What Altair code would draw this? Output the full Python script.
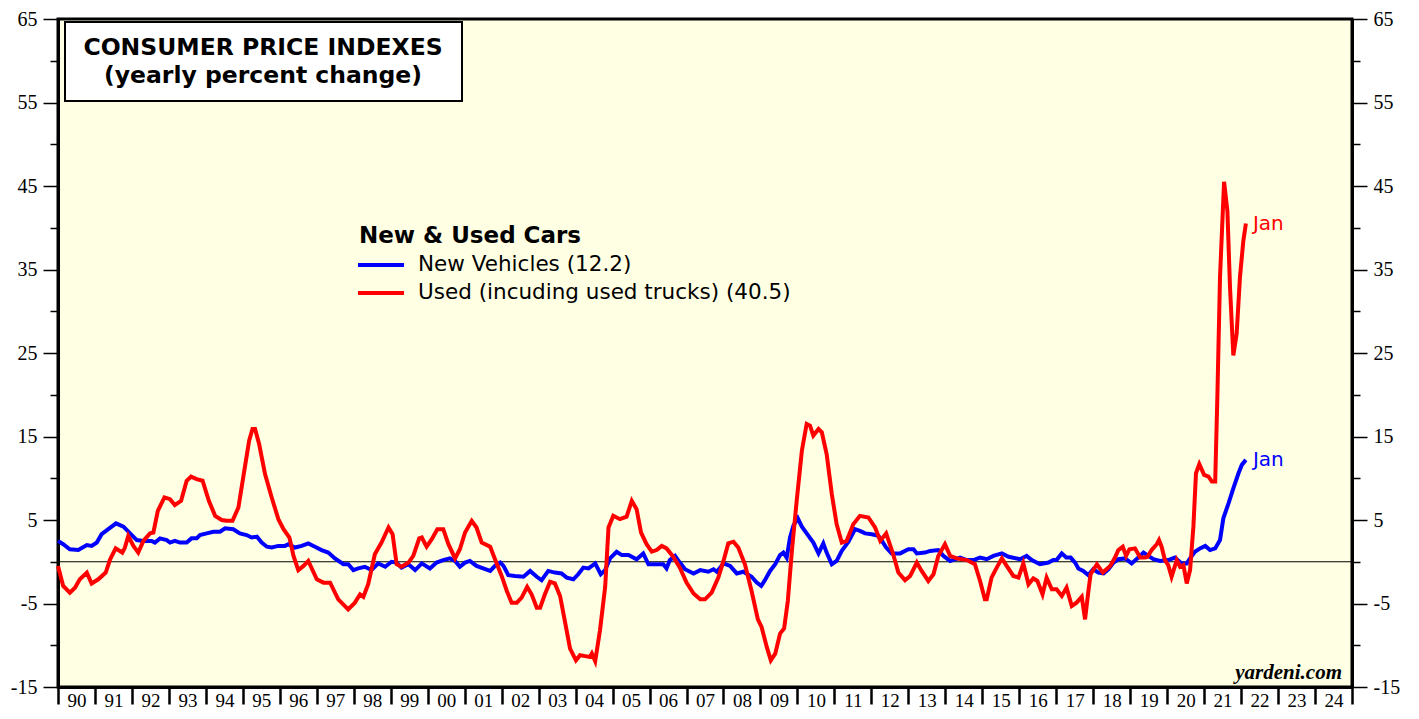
import altair as alt
import pandas as pd

# ---------------- data ----------------
new_t = [1990.00, 1990.14, 1990.32, 1990.55, 1990.78, 1990.91, 1991.05, 1991.18, 1991.36, 1991.57,
         1991.77, 1991.95, 1992.13, 1992.31, 1992.53, 1992.62, 1992.76, 1992.94, 1993.03, 1993.16,
         1993.30, 1993.48, 1993.61, 1993.75, 1993.84, 1994.02, 1994.20, 1994.38, 1994.52, 1994.74,
         1994.92, 1995.10, 1995.24, 1995.38, 1995.51, 1995.65, 1995.78, 1995.96, 1996.14, 1996.23,
         1996.41, 1996.59, 1996.77, 1996.95, 1997.13, 1997.31, 1997.49, 1997.72, 1997.85, 1997.99,
         1998.12, 1998.30, 1998.48, 1998.66, 1998.85, 1999.02, 1999.16, 1999.29, 1999.48, 1999.66,
         1999.84, 2000.06, 2000.24, 2000.42, 2000.60, 2000.74, 2000.87, 2001.01, 2001.14, 2001.32,
         2001.50, 2001.69, 2001.82, 2001.96, 2002.05, 2002.18, 2002.36, 2002.59, 2002.77, 2002.95,
         2003.08, 2003.26, 2003.44, 2003.62, 2003.76, 2003.94, 2004.07, 2004.21, 2004.35, 2004.53,
         2004.68, 2004.80, 2004.93, 2005.11, 2005.25, 2005.43, 2005.65, 2005.83, 2005.97, 2006.15,
         2006.37, 2006.46, 2006.55, 2006.69, 2006.82, 2006.96, 2007.19, 2007.37, 2007.59, 2007.73,
         2007.82, 2008.00, 2008.18, 2008.36, 2008.54, 2008.76, 2008.90, 2009.02, 2009.12, 2009.26,
         2009.40, 2009.53, 2009.62, 2009.71, 2009.80, 2009.89, 2010.01, 2010.12, 2010.25, 2010.43,
         2010.57, 2010.70, 2010.79, 2010.93, 2011.06, 2011.20, 2011.38, 2011.56, 2011.69, 2011.83,
         2012.01, 2012.19, 2012.30, 2012.40, 2012.55, 2012.78, 2013.00, 2013.14, 2013.23, 2013.45,
         2013.59, 2013.81, 2013.95, 2014.13, 2014.40, 2014.58, 2014.76, 2014.94, 2015.12, 2015.30,
         2015.53, 2015.71, 2016.02, 2016.20, 2016.34, 2016.56, 2016.79, 2016.92, 2017.01, 2017.15,
         2017.27, 2017.39, 2017.51, 2017.60, 2017.73, 2017.87, 2018.00, 2018.14, 2018.28, 2018.41,
         2018.55, 2018.68, 2018.86, 2019.04, 2019.22, 2019.36, 2019.49, 2019.63, 2019.81, 2020.03,
         2020.21, 2020.39, 2020.53, 2020.62, 2020.75, 2020.89, 2021.03, 2021.16, 2021.30, 2021.43,
         2021.52, 2021.66, 2021.79, 2021.93, 2022.02, 2022.13]
new_v = [2.5, 2.1, 1.5, 1.4, 2.0, 1.9, 2.3, 3.3, 3.9, 4.6,
         4.2, 3.4, 2.6, 2.5, 2.5, 2.3, 2.8, 2.6, 2.3, 2.5,
         2.3, 2.3, 2.8, 2.8, 3.2, 3.4, 3.6, 3.6, 4.0, 3.9,
         3.4, 3.2, 2.9, 3.0, 2.3, 1.8, 1.7, 1.9, 1.9, 2.1,
         1.7, 1.9, 2.2, 1.8, 1.4, 1.1, 0.4, -0.3, -0.3, -1.0,
         -0.8, -0.6, -1.0, -0.2, -0.6, 0.0, -0.1, -0.7, -0.3, -1.0,
         -0.2, -0.8, -0.1, 0.2, 0.4, 0.1, -0.6, -0.1, 0.1, -0.5,
         -0.8, -1.1, -0.5, -0.1, -0.5, -1.6, -1.7, -1.8, -1.1, -1.8,
         -2.2, -1.1, -1.3, -1.4, -1.9, -2.1, -1.5, -0.7, -0.8, -0.2,
         -1.5, -1.0, 0.4, 1.2, 0.8, 0.8, 0.3, 1.0, -0.3, -0.3,
         -0.3, -0.8, 0.2, 0.7, -0.1, -0.9, -1.4, -1.0, -1.2, -0.9,
         -1.2, -0.2, -0.5, -1.4, -1.2, -1.8, -2.5, -2.9, -2.2, -1.1,
         -0.3, 0.8, 1.1, 0.5, 2.9, 4.3, 5.2, 4.2, 3.4, 2.3,
         1.0, 2.2, 1.1, -0.3, 0.1, 1.3, 2.4, 3.9, 3.7, 3.4,
         3.3, 3.1, 2.4, 1.7, 1.0, 1.0, 1.5, 1.5, 1.0, 1.1,
         1.3, 1.4, 0.7, 0.1, 0.5, 0.2, 0.2, 0.5, 0.3, 0.7,
         1.0, 0.6, 0.3, 0.7, 0.2, -0.3, -0.1, 0.2, 0.2, 1.0,
         0.5, 0.5, -0.1, -0.8, -1.1, -1.6, -0.9, -1.3, -1.4, -0.9,
         -0.1, 0.3, 0.4, -0.2, 0.5, 1.1, 0.7, 0.3, 0.1, 0.2,
         0.5, -0.2, -0.2, 0.4, 1.2, 1.6, 1.9, 1.4, 1.6, 2.6,
         5.2, 7.0, 8.8, 10.6, 11.6, 12.2]

used_t = [1990.00, 1990.14, 1990.32, 1990.46, 1990.59, 1990.78, 1990.91, 1991.09, 1991.29, 1991.41,
          1991.56, 1991.74, 1991.81, 1991.90, 1992.04, 1992.17, 1992.31, 1992.49, 1992.58, 1992.70,
          1992.88, 1993.03, 1993.16, 1993.33, 1993.48, 1993.60, 1993.75, 1993.91, 1994.08, 1994.25,
          1994.43, 1994.56, 1994.72, 1994.88, 1995.01, 1995.17, 1995.26, 1995.33, 1995.44, 1995.60,
          1995.78, 1995.96, 1996.10, 1996.26, 1996.37, 1996.50, 1996.64, 1996.77, 1997.00, 1997.18,
          1997.36, 1997.58, 1997.85, 1998.03, 1998.17, 1998.26, 1998.39, 1998.57, 1998.75, 1998.94,
          1999.05, 1999.16, 1999.29, 1999.48, 1999.61, 1999.77, 1999.84, 1999.97, 2000.11, 2000.26,
          2000.42, 2000.56, 2000.74, 2000.87, 2001.01, 2001.19, 2001.32, 2001.46, 2001.69, 2001.82,
          2002.00, 2002.14, 2002.27, 2002.41, 2002.54, 2002.69, 2002.81, 2002.95, 2003.04, 2003.17,
          2003.31, 2003.44, 2003.58, 2003.71, 2003.85, 2004.01, 2004.12, 2004.26, 2004.39, 2004.44,
          2004.53, 2004.66, 2004.80, 2004.89, 2005.02, 2005.20, 2005.38, 2005.52, 2005.65, 2005.77,
          2005.92, 2006.06, 2006.19, 2006.33, 2006.46, 2006.64, 2006.82, 2007.00, 2007.19, 2007.37,
          2007.50, 2007.68, 2007.86, 2008.00, 2008.13, 2008.27, 2008.40, 2008.58, 2008.76, 2008.93,
          2009.03, 2009.17, 2009.28, 2009.40, 2009.53, 2009.64, 2009.74, 2009.85, 2009.98, 2010.12,
          2010.25, 2010.34, 2010.43, 2010.57, 2010.66, 2010.79, 2010.93, 2011.06, 2011.20, 2011.33,
          2011.51, 2011.69, 2011.92, 2012.10, 2012.24, 2012.40, 2012.59, 2012.73, 2012.91, 2013.05,
          2013.23, 2013.36, 2013.54, 2013.68, 2013.81, 2013.99, 2014.13, 2014.31, 2014.58, 2014.80,
          2014.94, 2015.07, 2015.12, 2015.25, 2015.39, 2015.53, 2015.66, 2015.84, 2015.98, 2016.11,
          2016.25, 2016.38, 2016.49, 2016.63, 2016.74, 2016.88, 2017.01, 2017.15, 2017.28, 2017.42,
          2017.55, 2017.69, 2017.78, 2017.87, 2017.93, 2018.10, 2018.26, 2018.46, 2018.59, 2018.68,
          2018.80, 2018.89, 2018.98, 2019.13, 2019.27, 2019.40, 2019.47, 2019.58, 2019.72, 2019.78,
          2019.85, 2019.94, 2020.03, 2020.12, 2020.26, 2020.35, 2020.44, 2020.53, 2020.62, 2020.71,
          2020.78, 2020.87, 2021.00, 2021.12, 2021.21, 2021.30, 2021.36, 2021.43, 2021.54, 2021.63,
          2021.70, 2021.79, 2021.88, 2021.97, 2022.06, 2022.13]
used_v = [-0.5, -2.9, -3.7, -3.1, -2.1, -1.3, -2.6, -2.1, -1.3, 0.3,
          1.6, 1.1, 1.7, 3.1, 1.9, 1.1, 2.5, 3.4, 3.5, 6.1,
          7.7, 7.5, 6.8, 7.3, 9.7, 10.2, 9.9, 9.7, 7.3, 5.5,
          5.0, 4.9, 4.9, 6.5, 10.1, 14.5, 15.9, 15.9, 14.1, 10.5,
          7.7, 5.1, 3.9, 2.9, 0.7, -1.0, -0.5, 0.1, -2.1, -2.5,
          -2.5, -4.5, -5.7, -4.9, -3.9, -4.2, -2.7, 0.9, 2.3, 4.1,
          3.3, -0.3, -0.6, -0.1, 0.7, 2.8, 2.9, 1.8, 2.7, 3.9,
          3.9, 2.1, 0.4, 1.5, 3.5, 4.9, 4.1, 2.3, 1.8, 0.3,
          -1.7, -3.5, -4.9, -4.9, -4.3, -3.0, -3.9, -5.5, -5.5, -3.9,
          -2.4, -2.6, -4.1, -7.1, -10.4, -11.8, -11.2, -11.3, -11.4, -11.0,
          -11.9, -8.2, -3.0, 4.1, 5.5, 5.1, 5.4, 7.3, 6.3, 3.5,
          2.1, 1.2, 1.4, 1.9, 1.6, 0.6, -0.7, -2.5, -3.8, -4.5,
          -4.5, -3.7, -1.9, 0.1, 2.2, 2.4, 1.7, -0.3, -3.5, -6.9,
          -7.8, -10.2, -11.8, -11.0, -8.6, -8.0, -4.7, 1.3, 7.3, 13.3,
          16.5, 16.3, 15.1, 15.9, 15.5, 12.9, 8.1, 4.5, 2.3, 2.5,
          4.5, 5.5, 5.3, 4.1, 2.5, 3.4, 0.9, -1.3, -2.2, -1.7,
          -0.1, -1.1, -2.3, -1.5, 0.7, 2.1, 0.7, 0.4, 0.2, -0.3,
          -2.3, -4.5, -4.5, -1.9, -0.7, 0.4, -0.5, -1.7, -1.9, -0.2,
          -2.7, -2.0, -2.3, -3.9, -1.9, -3.3, -3.3, -4.1, -3.1, -5.3,
          -4.9, -4.2, -6.9, -3.5, -1.5, -0.3, -1.3, -0.5, 0.5, 1.4,
          1.8, 0.7, 1.5, 1.6, 0.5, 0.5, 0.6, 1.4, 2.1, 2.6,
          1.8, 0.2, -0.4, -1.8, 0.2, -0.6, -0.4, -2.6, -1.0, 4.2,
          10.6, 11.7, 10.4, 10.2, 9.6, 9.6, 20.1, 34.1, 45.5, 42.0,
          32.9, 24.7, 27.3, 34.1, 38.4, 40.5]

series_names = ["New Vehicles (12.2)", "Used (incuding used trucks) (40.5)"]
series_colors = ["#0000FF", "#FF0000"]
end_labels = ["Jan", "Jan"]
year_ticks = list(range(1990, 2026))
y_ticks = list(range(-15, 66, 5))
title_lines = ["CONSUMER PRICE INDEXES", "(yearly percent change)"]
legend_title = "New & Used Cars"
source_text = "yardeni.com"

# ---------------- chart ----------------
new_df = pd.DataFrame({"t": new_t, "v": new_v})
used_df = pd.DataFrame({"t": used_t, "v": used_v})
end_df = pd.DataFrame({
    "t": [new_t[-1], used_t[-1]],
    "v": [new_v[-1], used_v[-1]],
    "label": end_labels,
    "c": series_colors,
})
one = pd.DataFrame({"a": [0]})

W, H = 1294, 668
x_scale = alt.Scale(domain=[1990, 2025], nice=False, zero=False)
y_scale = alt.Scale(domain=[-15, 65], nice=False, zero=False)

x_axis = alt.Axis(
    values=year_ticks, title=None, grid=False,
    labelExpr="datum.value < 2025 ? substring(toString(datum.value), 2, 4) : ''",
    labelOffset=18.5, labelAlign="center", labelBaseline="top", labelPadding=-13,
    tickSize=17, tickWidth=2.5, tickColor="black",
    domainWidth=3, domainColor="black",
    labelFont="Liberation Serif", labelFontSize=19, labelColor="black",
    labelOverlap=False, labelFlush=False, labelBound=False,
)


def y_axis(orient):
    return alt.Axis(
        orient=orient, values=y_ticks, title=None, grid=False,
        labelExpr="datum.value % 10 == 0 ? '' : toString(datum.value)",
        tickSize={"condition": {"test": "datum.value % 10 == 0", "value": 8}, "value": 15},
        tickWidth=1.5, tickColor="black",
        domainWidth=3, domainColor="black",
        labelFont="Liberation Serif", labelFontSize=20, labelColor="black",
        labelPadding=6, labelOverlap=False, labelFlush=False, labelBound=False,
    )


X = alt.X("t:Q", scale=x_scale, axis=x_axis)
Y = alt.Y("v:Q", scale=y_scale, axis=y_axis("left"))

blue = alt.Chart(new_df).mark_line(color=series_colors[0], strokeWidth=4).encode(x=X, y=Y)
red = alt.Chart(used_df).mark_line(color=series_colors[1], strokeWidth=4).encode(x=X, y=Y)

ends = alt.Chart(end_df).mark_text(
    align="left", baseline="middle", dx=7, font="DejaVu Sans", fontSize=20
).encode(x=X, y=Y, text="label:N", color=alt.Color("c:N", scale=None))

box = alt.Chart(one).mark_rect(fill="white", stroke="black", strokeWidth=2).encode(
    x=alt.value(7), x2=alt.value(404), y=alt.value(3), y2=alt.value(82))
t1 = alt.Chart(one).mark_text(font="DejaVu Sans", fontWeight="bold", fontSize=23.5,
                              align="center", baseline="middle", color="black").encode(
    x=alt.value(205), y=alt.value(29), text=alt.value(title_lines[0]))
t2 = alt.Chart(one).mark_text(font="DejaVu Sans", fontWeight="bold", fontSize=23.5,
                              align="center", baseline="middle", color="black").encode(
    x=alt.value(205), y=alt.value(57), text=alt.value(title_lines[1]))

lg_title = alt.Chart(one).mark_text(font="DejaVu Sans", fontWeight="bold", fontSize=23,
                                    align="left", baseline="middle", color="black").encode(
    x=alt.value(301), y=alt.value(217), text=alt.value(legend_title))
lg_rule1 = alt.Chart(one).mark_rule(color=series_colors[0], strokeWidth=4).encode(
    x=alt.value(300), x2=alt.value(346), y=alt.value(246))
lg_rule2 = alt.Chart(one).mark_rule(color=series_colors[1], strokeWidth=4).encode(
    x=alt.value(300), x2=alt.value(346), y=alt.value(274))
lg_text1 = alt.Chart(one).mark_text(font="DejaVu Sans", fontSize=21.5, align="left",
                                    baseline="middle", color="black").encode(
    x=alt.value(360), y=alt.value(246), text=alt.value(series_names[0]))
lg_text2 = alt.Chart(one).mark_text(font="DejaVu Sans", fontSize=21.5, align="left",
                                    baseline="middle", color="black").encode(
    x=alt.value(360), y=alt.value(274), text=alt.value(series_names[1]))

src = alt.Chart(one).mark_text(font="Liberation Serif", fontStyle="italic", fontWeight="bold",
                               fontSize=21, align="right", baseline="middle", color="black").encode(
    x=alt.value(1284), y=alt.value(654), text=alt.value(source_text))

main = alt.layer(blue, red, ends, box, t1, t2, lg_title, lg_rule1, lg_rule2, lg_text1, lg_text2, src)

zero = alt.Chart(pd.DataFrame({"v": [0]})).mark_rule(color="black", strokeWidth=1).encode(
    y=alt.Y("v:Q", scale=y_scale, axis=y_axis("right")))

chart = alt.layer(zero, main).resolve_scale(y="independent").properties(
    width=W, height=H,
    padding={"left": 50, "top": 11, "right": 55, "bottom": 25},
    autosize=alt.AutoSizeParams(type="none"),
    background="white",
).configure_view(fill="#FFFFE4", stroke="black", strokeWidth=3)

chart.save("out.html", embed_options={"renderer": "svg", "actions": False})
